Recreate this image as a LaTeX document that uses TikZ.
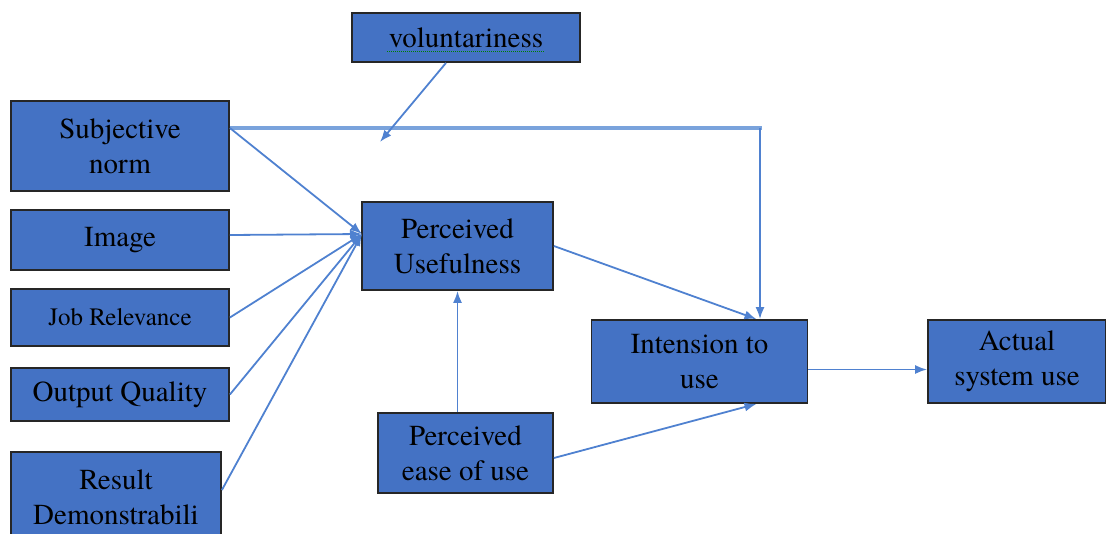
\documentclass[tikz,border=0pt]{standalone}
\usepackage{fontspec}
\setmainfont{TeX Gyre Termes}
\usetikzlibrary{arrows.meta}
\definecolor{boxblue}{HTML}{4472C4}
\definecolor{lineblue}{HTML}{4F81D0}
\definecolor{barblue}{HTML}{7AA3DC}
\tikzset{>={Latex[length=12pt,width=9pt]}}
\tikzset{
    box/.style={draw=black!85, line width=1.8pt, fill=boxblue, inner sep=0pt, align=center, font=\rmfamily\fontsize{29}{35}\selectfont},
    link/.style={lineblue, line width=1.8pt},
}

\begin{document}
\begin{tikzpicture}[x=1pt, y=-1pt]
    \useasboundingbox(0, 0) rectangle (1106, 533);
    \clip(0, 0) rectangle (1106, 533);
    \node[box, minimum width=228pt, minimum height=49pt](vol) at (466, 37.5){voluntariness};
    \draw[green!50!black, densely dotted, line width=1pt]([xshift=-79pt, yshift=-14pt]vol.center)--([xshift=78pt, yshift=-14pt]vol.center);
    \node[box, minimum width=218pt, minimum height=90pt](subj) at (120, 146){Subjective\\norm};
    \node[box, minimum width=218pt, minimum height=60pt](img) at (120, 240){Image};
    \node[box, minimum width=218pt, minimum height=57pt, font=\rmfamily\fontsize{25}{30}\selectfont](job) at (120, 317.5){Job Relevance};
    \node[box, minimum width=218pt, minimum height=53pt](outq) at (120, 394.5){Output Quality};
    \node[box, minimum width=210pt, minimum height=90pt](res) at (116, 497){Result\\Demonstrabili};
    \node[box, minimum width=191pt, minimum height=88pt](pu) at (457.5, 246){Perceived\\Usefulness};
    \node[box, minimum width=175pt, minimum height=80pt](peou) at (465.5, 453){Perceived\\ease of use};
    \node[box, minimum width=216pt, minimum height=83pt](itu) at (699.5, 361.5){Intension to\\use};
    \node[box, minimum width=178pt, minimum height=83pt](asu) at (1017, 361.5){Actual\\system use};

    \coordinate(sn) at ([yshift=18pt]subj.east);
    \coordinate(puin) at (362, 234);
    \coordinate(corner) at (760, 128);
    \coordinate(volend) at (380, 142);

    \draw[barblue, line width=3.5pt](sn)--([xshift=2pt]corner);
    \draw[link, ->](corner)--(corner |- itu.north);
    \draw[link, ->](vol.south)++(-20pt, 0)--(volend);
    \draw[link, ->](sn)--(puin);
    \draw[link, ->]([yshift=5pt]img.east)--(puin);
    \draw[link, ->](job.east)--(puin);
    \draw[link, ->](outq.east)--(puin);
    \draw[link, ->]([yshift=7pt]res.east)--(puin);
    \draw[link, ->](pu.east)--([xshift=57pt]itu.north);
    \draw[link, ->](pu.south |- peou.north)--(pu.south);
    \draw[link, ->]([yshift=-5pt]peou.east)--([xshift=57pt]itu.south);
    \draw[link, ->]([yshift=-8pt]itu.east)--([yshift=-8pt]asu.west);
\end{tikzpicture}
\end{document}
